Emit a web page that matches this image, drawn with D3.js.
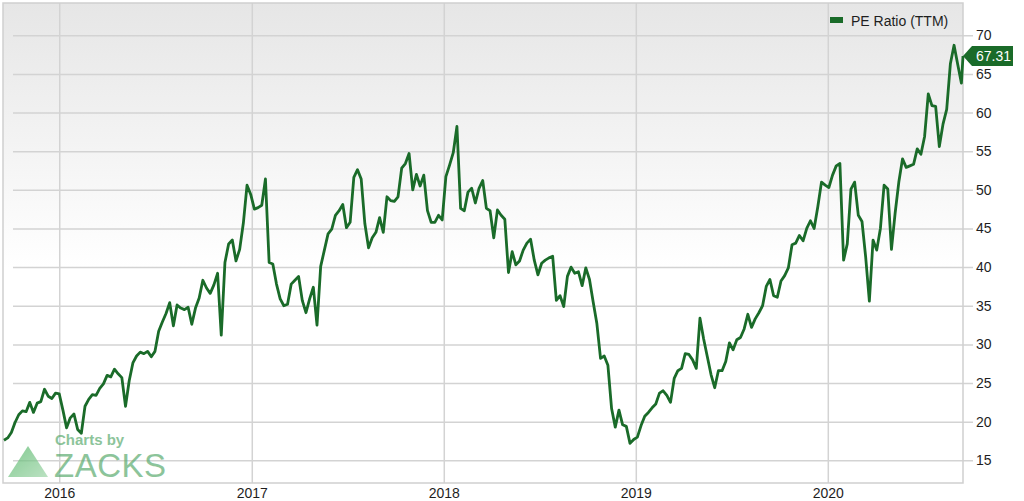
<!DOCTYPE html>
<html>
<head>
<meta charset="utf-8">
<script src="https://cdn.jsdelivr.net/npm/d3@7"></script>
<style>
  body { margin: 0; background: #fff; }
  text { font-family: "Liberation Sans", Arial, sans-serif; }
</style>
</head>
<body>
<script>
'use strict';

// weekly PE ratio readings (Fridays), one array per calendar year
const pe2015 = [17.6, 17.9, 18.6, 19.9, 20.9, 21.4, 21.3, 22.5, 21.2, 22.4, 22.6, 24.2, 23.3, 23.0, 23.7, 23.6];
const pe2016 = [21.5, 19.2, 20.5, 21.0, 19.0, 18.5, 22.0, 22.9, 23.5, 23.4, 24.3, 24.9, 26.0, 25.8, 26.8, 26.2,
  25.7, 22.0, 25.3, 27.6, 28.5, 29.0, 28.8, 29.1, 28.4, 29.1, 31.7, 32.9, 34.0, 35.4, 32.4, 35.1, 34.7, 34.5,
  34.8, 32.6, 34.7, 36.0, 38.3, 37.3, 36.6, 37.7, 39.2, 31.2, 40.6, 43.0, 43.5, 40.8, 42.3, 45.7, 50.6, 49.4];
const pe2017 = [47.5, 47.7, 48.0, 51.4, 40.6, 40.4, 37.8, 35.9, 35.0, 35.2, 37.8, 38.3, 38.8, 35.7, 34.1, 35.9,
  37.4, 32.5, 40.1, 42.2, 44.3, 44.9, 46.7, 47.3, 48.1, 45.1, 45.8, 51.6, 52.6, 51.4, 45.6, 42.5, 43.8, 44.5,
  46.4, 44.5, 49.1, 48.6, 48.5, 49.1, 52.8, 53.4, 54.7, 50.0, 52.0, 50.5, 51.9, 47.3, 45.8, 45.8, 46.7, 46.1];
const pe2018 = [51.7, 53.2, 54.8, 58.2, 47.6, 47.3, 49.7, 50.2, 48.3, 50.2, 51.2, 47.6, 47.3, 43.8, 47.4, 46.7,
  46.2, 39.3, 42.0, 40.3, 40.8, 42.2, 43.1, 43.6, 40.9, 39.0, 40.5, 40.9, 41.2, 41.4, 35.7, 36.3, 34.9, 38.8,
  40.0, 39.2, 39.4, 37.6, 39.9, 38.4, 35.5, 32.7, 28.2, 28.5, 27.3, 21.7, 19.3, 21.5, 19.6, 19.4, 17.2, 17.7];
const pe2019 = [18.0, 19.5, 20.7, 21.2, 21.8, 22.3, 23.7, 24.0, 23.4, 22.5, 25.6, 26.6, 26.9, 28.8, 28.7, 28.0,
  26.9, 33.4, 30.7, 28.4, 26.1, 24.4, 26.6, 26.6, 27.8, 30.2, 29.3, 30.6, 30.9, 32.0, 33.9, 32.2, 33.3, 34.1,
  35.0, 37.5, 38.4, 36.3, 36.1, 38.2, 38.9, 39.9, 42.9, 43.1, 44.1, 43.4, 45.0, 46.0, 45.0, 47.8, 51.0, 50.6];
const pe2020 = [50.3, 51.9, 53.1, 53.4, 40.9, 43.0, 50.1, 51.0, 46.7, 45.9, 41.3, 35.6, 43.5, 42.2, 45.0, 50.6,
  50.1, 42.3, 47.0, 51.0, 54.0, 52.9, 53.1, 53.3, 55.3, 54.6, 56.9, 62.4, 60.9, 60.8, 55.6, 58.5, 60.4, 66.3,
  68.7, 66.2, 63.8];
const firstFriday = "2015-09-18";
const lastDate = "2020-09-14";
const lastValue = 67.31;

const yTicks = [15, 20, 25, 30, 35, 40, 45, 50, 55, 60, 65, 70];
const xTicks = ["2016", "2017", "2018", "2019", "2020"];
const seriesName = "PE Ratio (TTM)";

const width = 1024, height = 501;
const plot = {left: 3, right: 963, top: 3, bottom: 483};
const green = "#1a6b29";

// build the table of points
const parse = d3.timeParse("%Y-%m-%d");
const weekly = [].concat(pe2015, pe2016, pe2017, pe2018, pe2019, pe2020);
const start = parse(firstFriday);
const fridays = d3.timeFriday.range(start, d3.timeFriday.offset(start, weekly.length));
const data = weekly.map((v, i) => ({date: fridays[i], value: v}));
data.push({date: parse(lastDate), value: lastValue});

const svg = d3.select('body').append('svg')
  .attr('width', width)
  .attr('height', height);

const defs = svg.append('defs');
const bg = defs.append('linearGradient').attr('id', 'bg')
  .attr('x1', 0).attr('y1', 0).attr('x2', 0).attr('y2', 1);
bg.append('stop').attr('offset', '0%').attr('stop-color', '#e6e6e6');
bg.append('stop').attr('offset', '55%').attr('stop-color', '#ffffff');
const tri = defs.append('linearGradient').attr('id', 'tri')
  .attr('x1', 0).attr('y1', 0).attr('x2', 1).attr('y2', 1);
tri.append('stop').attr('offset', '0%').attr('stop-color', '#4fb463');
tri.append('stop').attr('offset', '100%').attr('stop-color', '#9fd6a9');

// scales
const x = d3.scaleTime()
  .domain([data[0].date, data[data.length - 1].date])
  .range([plot.left + 1, plot.right]);
const y = d3.scaleLinear()
  .domain([12.07, 74.17])
  .range([plot.bottom, plot.top]);

// plot background
svg.append('rect')
  .attr('x', plot.left).attr('y', plot.top)
  .attr('width', plot.right - plot.left).attr('height', plot.bottom - plot.top)
  .attr('fill', 'url(#bg)');

// y axis on the right, gridlines run across the plot
const yAxis = d3.axisRight(y)
  .tickValues(yTicks)
  .tickSize(-(plot.right - plot.left))
  .tickPadding(13);
const gy = svg.append('g')
  .attr('transform', 'translate(' + (plot.right + 10) + ',0)')
  .call(yAxis);
gy.select('.domain').remove();
gy.selectAll('line').attr('stroke', '#d3d3d3').attr('stroke-width', 1.5);
gy.selectAll('text').attr('fill', '#1e1e1e').style('font-size', '14px').attr('x', 3);

// x axis, gridlines only inside the plot
const xAxis = d3.axisBottom(x)
  .tickValues(xTicks.map((t) => d3.timeParse("%Y")(t)))
  .tickFormat(d3.timeFormat("%Y"))
  .tickSize(plot.bottom - plot.top)
  .tickPadding(5);
const gx = svg.append('g')
  .attr('transform', 'translate(0,' + plot.top + ')')
  .call(xAxis);
gx.select('.domain').remove();
gx.selectAll('line').attr('stroke', '#d3d3d3').attr('stroke-width', 1.5);
gx.selectAll('text').attr('fill', '#1e1e1e').style('font-size', '14px');

// plot border
svg.append('rect')
  .attr('x', plot.left).attr('y', plot.top)
  .attr('width', plot.right - plot.left).attr('height', plot.bottom - plot.top)
  .attr('fill', 'none')
  .attr('stroke', '#cfcfcf')
  .attr('stroke-width', 1.5);

// watermark
const logo = svg.append('g').attr('opacity', 0.7);
logo.append('path')
  .attr('d', 'M28,446 L48,477 L8,477 Z')
  .attr('fill', 'url(#tri)');
logo.append('text')
  .attr('x', 55).attr('y', 445)
  .attr('fill', '#5cac70')
  .style('font-size', '15px').style('font-weight', 'bold')
  .text('Charts by');
logo.append('text')
  .attr('x', 54).attr('y', 477)
  .attr('fill', '#5cac70')
  .style('font-size', '33px')
  .style('letter-spacing', '0.5px')
  .text('ZACKS');

// the PE line
const line = d3.line()
  .x((d) => x(d.date))
  .y((d) => y(d.value));
svg.append('path')
  .datum(data)
  .attr('fill', 'none')
  .attr('stroke', green)
  .attr('stroke-width', 2.8)
  .attr('stroke-linejoin', 'round')
  .attr('d', line);

// legend
svg.append('rect')
  .attr('x', 830).attr('y', 17)
  .attr('width', 13).attr('height', 6)
  .attr('fill', green);
svg.append('text')
  .attr('x', 851).attr('y', 21)
  .attr('dominant-baseline', 'central')
  .attr('fill', '#1e1e1e')
  .style('font-size', '14px')
  .text(seriesName);

// last value flag
const last = data[data.length - 1];
const fy = y(last.value);
const fx = x(last.date);
svg.append('path')
  .attr('d', 'M' + fx + ',' + fy + ' L' + (fx + 9) + ',' + (fy - 10) + ' L1013,' + (fy - 10) +
    ' L1013,' + (fy + 10) + ' L' + (fx + 9) + ',' + (fy + 10) + ' Z')
  .attr('fill', green);
svg.append('text')
  .attr('x', fx + 13).attr('y', fy)
  .attr('dominant-baseline', 'central')
  .attr('fill', '#fff')
  .style('font-size', '14px')
  .text(d3.format('.2f')(last.value));
</script>
</body>
</html>
